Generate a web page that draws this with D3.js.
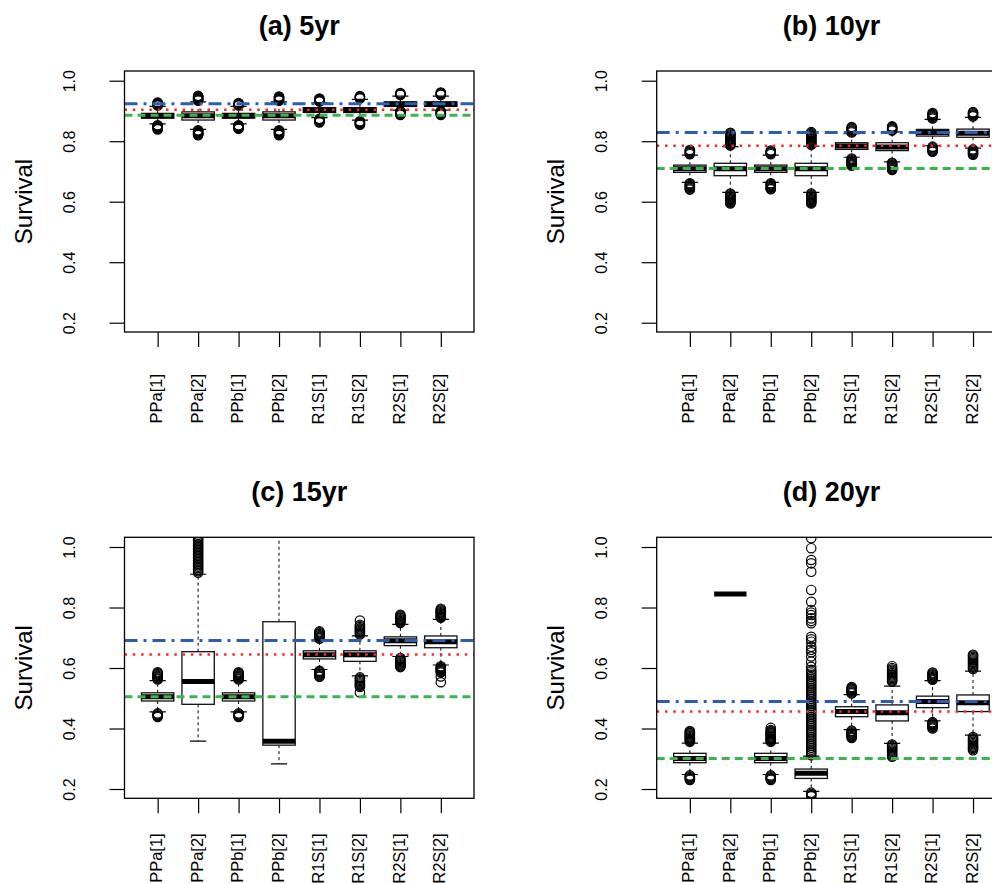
<!DOCTYPE html>
<html>
<head>
<meta charset="utf-8">
<script src="https://cdn.jsdelivr.net/npm/d3@7/dist/d3.min.js"></script>
<style>
  html, body { margin: 0; padding: 0; background: #fff; }
  svg { display: block; }
  text { font-family: "Liberation Sans", Arial, Helvetica, sans-serif; fill: #000; }
</style>
</head>
<body>
<svg id="chart" width="992" height="883"></svg>
<script>
// ---------------- data ----------------
const categories = ["PPa[1]", "PPa[2]", "PPb[1]", "PPb[2]", "R1S[1]", "R1S[2]", "R2S[1]", "R2S[2]"];
const panelTitles = ["(a) 5yr", "(b) 10yr", "(c) 15yr", "(d) 20yr"];
const yTickValues = [0.2, 0.4, 0.6, 0.8, 1.0];
const yLabel = "Survival";

// box stats: [lower whisker, Q1, median, Q3, upper whisker]
const stats5 = [
  [0.857, 0.876, 0.884, 0.892, 0.915],
  [0.839, 0.870, 0.884, 0.897, 0.930],
  [0.857, 0.876, 0.884, 0.892, 0.915],
  [0.839, 0.870, 0.884, 0.897, 0.930],
  [0.878, 0.895, 0.903, 0.911, 0.927],
  [0.870, 0.895, 0.903, 0.911, 0.938],
  [0.903, 0.915, 0.923, 0.930, 0.949],
  [0.903, 0.915, 0.923, 0.930, 0.949]
];
const outliers5 = [
  [0.918, 0.920, 0.922, 0.924, 0.926, 0.928, 0.853, 0.851, 0.849, 0.847, 0.845, 0.843, 0.841, 0.839],
  [0.934, 0.936, 0.938, 0.940, 0.942, 0.944, 0.946, 0.948, 0.950, 0.836, 0.834, 0.832, 0.830, 0.828, 0.826, 0.824, 0.822, 0.820],
  [0.918, 0.920, 0.922, 0.924, 0.926, 0.853, 0.851, 0.849, 0.847, 0.845, 0.843, 0.841],
  [0.934, 0.936, 0.938, 0.940, 0.942, 0.944, 0.946, 0.948, 0.836, 0.834, 0.832, 0.830, 0.828, 0.826, 0.824, 0.822, 0.820],
  [0.931, 0.933, 0.935, 0.937, 0.939, 0.941, 0.874, 0.872, 0.870, 0.868, 0.866, 0.864, 0.862],
  [0.941, 0.943, 0.945, 0.947, 0.949, 0.866, 0.864, 0.862, 0.860, 0.858, 0.856, 0.854],
  [0.953, 0.955, 0.957, 0.959, 0.899, 0.897, 0.895, 0.893, 0.891, 0.889, 0.887],
  [0.953, 0.955, 0.957, 0.959, 0.961, 0.899, 0.897, 0.895, 0.893, 0.891, 0.889, 0.887]
];

const stats10 = [
  [0.664, 0.697, 0.709, 0.721, 0.754],
  [0.631, 0.686, 0.709, 0.727, 0.782],
  [0.664, 0.697, 0.709, 0.721, 0.754],
  [0.631, 0.686, 0.709, 0.727, 0.784],
  [0.747, 0.773, 0.784, 0.795, 0.825],
  [0.732, 0.769, 0.781, 0.795, 0.831],
  [0.785, 0.817, 0.829, 0.839, 0.872],
  [0.777, 0.813, 0.826, 0.840, 0.879]
];
const outliers10 = [
  [0.757, 0.760, 0.763, 0.766, 0.769, 0.771, 0.661, 0.658, 0.655, 0.652, 0.649, 0.646, 0.643, 0.640],
  [0.786, 0.789, 0.792, 0.795, 0.798, 0.801, 0.804, 0.807, 0.810, 0.813, 0.816, 0.819, 0.822, 0.825, 0.828,
   0.627, 0.624, 0.621, 0.618, 0.615, 0.612, 0.609, 0.606, 0.603, 0.600, 0.597, 0.594],
  [0.757, 0.760, 0.763, 0.766, 0.769, 0.661, 0.658, 0.655, 0.652, 0.649, 0.646, 0.643, 0.641],
  [0.788, 0.791, 0.794, 0.797, 0.800, 0.803, 0.806, 0.809, 0.812, 0.815, 0.818, 0.821, 0.824, 0.827, 0.830,
   0.627, 0.624, 0.621, 0.618, 0.615, 0.612, 0.609, 0.606, 0.603, 0.600, 0.597, 0.594],
  [0.829, 0.832, 0.835, 0.838, 0.841, 0.844, 0.847, 0.743, 0.740, 0.737, 0.734, 0.731, 0.728, 0.725, 0.722, 0.719],
  [0.835, 0.838, 0.841, 0.844, 0.847, 0.849, 0.729, 0.726, 0.723, 0.720, 0.717, 0.714, 0.711, 0.708, 0.705],
  [0.875, 0.878, 0.881, 0.884, 0.887, 0.890, 0.893, 0.782, 0.779, 0.776, 0.773, 0.770, 0.767, 0.765],
  [0.882, 0.885, 0.888, 0.891, 0.894, 0.896, 0.773, 0.770, 0.767, 0.764, 0.761, 0.758, 0.755]
];

const stats15 = [
  [0.455, 0.491, 0.505, 0.518, 0.558],
  [0.358, 0.480, 0.555, 0.654, 0.910],
  [0.455, 0.491, 0.505, 0.518, 0.558],
  [0.283, 0.345, 0.358, 0.753, 1.100],
  [0.595, 0.630, 0.644, 0.657, 0.692],
  [0.574, 0.622, 0.644, 0.657, 0.706],
  [0.638, 0.674, 0.690, 0.703, 0.744],
  [0.610, 0.667, 0.687, 0.706, 0.761]
];
const outliers15 = [
  [0.562, 0.565, 0.568, 0.571, 0.574, 0.577, 0.580, 0.583, 0.586, 0.450, 0.447, 0.444, 0.441, 0.438],
  [0.915, 0.920, 0.925, 0.930, 0.935, 0.940, 0.945, 0.950, 0.955, 0.960, 0.965, 0.970, 0.975,
   0.980, 0.985, 0.990, 0.995, 1.000, 1.005, 1.010, 1.015, 1.020, 1.025, 1.030, 1.035],
  [0.562, 0.565, 0.568, 0.571, 0.574, 0.577, 0.580, 0.583, 0.586, 0.450, 0.447, 0.444, 0.441, 0.438],
  [],
  [0.697, 0.700, 0.703, 0.706, 0.709, 0.712, 0.715, 0.718, 0.721, 0.591, 0.588, 0.585, 0.582, 0.579, 0.576, 0.573, 0.571],
  [0.711, 0.715, 0.719, 0.723, 0.727, 0.731, 0.735, 0.739, 0.743, 0.757,
   0.569, 0.565, 0.561, 0.557, 0.553, 0.549, 0.545, 0.541, 0.537, 0.519],
  [0.749, 0.752, 0.755, 0.758, 0.761, 0.764, 0.767, 0.770, 0.773, 0.776,
   0.633, 0.630, 0.627, 0.624, 0.621, 0.618, 0.615, 0.612, 0.609, 0.606, 0.603],
  [0.766, 0.769, 0.772, 0.775, 0.778, 0.781, 0.784, 0.787, 0.790, 0.793, 0.796,
   0.606, 0.603, 0.600, 0.597, 0.594, 0.591, 0.588, 0.585, 0.572, 0.553]
];

const stats20 = [
  [0.248, 0.287, 0.301, 0.318, 0.352],
  [0.845, 0.845, 0.845, 0.845, 0.845],
  [0.248, 0.287, 0.301, 0.318, 0.352],
  [0.192, 0.235, 0.252, 0.266, 0.309],
  [0.396, 0.439, 0.456, 0.472, 0.512],
  [0.351, 0.425, 0.452, 0.478, 0.540],
  [0.425, 0.469, 0.489, 0.507, 0.558],
  [0.378, 0.456, 0.485, 0.511, 0.590]
];
const outliers20 = [
  [0.356, 0.359, 0.362, 0.365, 0.368, 0.371, 0.374, 0.377, 0.380, 0.383, 0.386, 0.389, 0.392,
   0.245, 0.242, 0.239, 0.236, 0.233, 0.230],
  [],
  [0.356, 0.359, 0.362, 0.365, 0.368, 0.371, 0.374, 0.377, 0.380, 0.383, 0.386, 0.389, 0.392, 0.395, 0.402,
   0.245, 0.242, 0.239, 0.236, 0.233, 0.230],
  [0.312, 0.318, 0.324, 0.330, 0.336, 0.342, 0.348, 0.354, 0.360, 0.366, 0.372, 0.378,
   0.384, 0.390, 0.396, 0.402, 0.408, 0.414, 0.420, 0.426, 0.432, 0.438, 0.444, 0.450,
   0.456, 0.462, 0.468, 0.474, 0.480, 0.486, 0.492, 0.498, 0.504, 0.510, 0.516, 0.522,
   0.528, 0.534, 0.540, 0.546, 0.552, 0.558, 0.564, 0.570, 0.576, 0.582, 0.588, 0.594,
   0.604, 0.621, 0.638, 0.652, 0.660, 0.670, 0.687, 0.695, 0.703, 0.748, 0.755, 0.764,
   0.775, 0.783, 0.792, 0.819, 0.858, 0.918, 0.946, 0.957, 0.996, 1.029,
   0.188, 0.184, 0.180, 0.176],
  [0.516, 0.519, 0.522, 0.525, 0.528, 0.531, 0.534, 0.537, 0.393, 0.390, 0.387, 0.384, 0.381, 0.378, 0.375, 0.372, 0.369],
  [0.555, 0.559, 0.563, 0.567, 0.571, 0.575, 0.579, 0.583, 0.587, 0.591, 0.595, 0.600, 0.606,
   0.347, 0.343, 0.339, 0.335, 0.331, 0.327, 0.323, 0.319, 0.315, 0.311, 0.307],
  [0.561, 0.564, 0.567, 0.570, 0.573, 0.576, 0.579, 0.582, 0.585, 0.421, 0.418, 0.415, 0.412, 0.409, 0.406, 0.403, 0.400],
  [0.597, 0.601, 0.605, 0.609, 0.613, 0.617, 0.621, 0.625, 0.629, 0.633, 0.637, 0.641, 0.644,
   0.372, 0.368, 0.364, 0.360, 0.356, 0.352, 0.348, 0.344, 0.340, 0.336, 0.332, 0.328]
];

// reference lines per panel
const refBlue  = [0.924, 0.829, 0.691, 0.489];
const refRed   = [0.904, 0.785, 0.645, 0.456];
const refGreen = [0.886, 0.710, 0.505, 0.301];

const allStats = [stats5, stats10, stats15, stats20];
const allOutliers = [outliers5, outliers10, outliers15, outliers20];

// ---------------- layout ----------------
const svg = d3.select("#chart");
svg.append("rect").attr("width", 992).attr("height", 883).attr("fill", "#fff");

const plotW = 349.5, plotH = 261;
const left0 = 124.5, top0 = 71, colStep = 532.2, rowStep = 466.3;
const labelOffset = [42, 35];

panelTitles.forEach((title, p) => {
  const col = p % 2, row = Math.floor(p / 2);
  const L = left0 + col * colStep, T = top0 + row * rowStep;
  const stats = allStats[p], outs = allOutliers[p];

  const x = d3.scaleLinear().domain([0.18, 8.82]).range([L, L + plotW]);
  const y = d3.scaleLinear().domain([0.1693, 1.0321]).range([T + plotH, T]);

  const g = svg.append("g");
  const clipId = "clip" + p;
  g.append("clipPath").attr("id", clipId)
    .append("rect").attr("x", L).attr("y", T).attr("width", plotW).attr("height", plotH);

  const inner = g.append("g").attr("clip-path", `url(#${clipId})`);

  // boxes
  stats.forEach((s, i) => {
    const cx = x(i + 1);
    const bx = x(i + 1 - 0.4), bw = x(i + 1 + 0.4) - x(i + 1 - 0.4);
    const sx0 = x(i + 1 - 0.2), sx1 = x(i + 1 + 0.2);
    const bg = inner.append("g");
    bg.append("line").attr("x1", cx).attr("x2", cx).attr("y1", y(s[3])).attr("y2", y(s[4]))
      .attr("stroke", "#000").attr("stroke-width", 1).attr("stroke-dasharray", "3,3");
    bg.append("line").attr("x1", cx).attr("x2", cx).attr("y1", y(s[1])).attr("y2", y(s[0]))
      .attr("stroke", "#000").attr("stroke-width", 1).attr("stroke-dasharray", "3,3");
    [s[0], s[4]].forEach(v => {
      bg.append("line").attr("x1", sx0).attr("x2", sx1).attr("y1", y(v)).attr("y2", y(v))
        .attr("stroke", "#000").attr("stroke-width", 1.2);
    });
    bg.append("rect").attr("x", bx).attr("y", y(s[3])).attr("width", bw)
      .attr("height", Math.max(0, y(s[1]) - y(s[3])))
      .attr("fill", "#fff").attr("stroke", "#111").attr("stroke-width", 1.3);
    bg.append("line").attr("x1", bx).attr("x2", bx + bw).attr("y1", y(s[2])).attr("y2", y(s[2]))
      .attr("stroke", "#000").attr("stroke-width", 5);
    bg.selectAll("circle").data(outs[i]).enter().append("circle")
      .attr("cx", cx).attr("cy", d => y(d)).attr("r", 4.7)
      .attr("fill", "none").attr("stroke", "#000").attr("stroke-width", 1.2);
  });

  // reference lines
  const refs = [
    { v: refGreen[p], color: "#3cb44a", w: 3, dash: "8,5" },
    { v: refRed[p], color: "#f52a2a", w: 2.5, dash: "2.5,5.8" },
    { v: refBlue[p], color: "#2b5eae", w: 3, dash: "13,6,3,6" }
  ];
  refs.forEach(r => {
    inner.append("line").attr("x1", L).attr("x2", L + plotW).attr("y1", y(r.v)).attr("y2", y(r.v))
      .attr("stroke", r.color).attr("stroke-width", r.w).attr("stroke-dasharray", r.dash);
  });

  // plot frame
  g.append("rect").attr("x", L).attr("y", T).attr("width", plotW).attr("height", plotH)
    .attr("fill", "none").attr("stroke", "#000").attr("stroke-width", 1.3);

  // y axis
  const yAxis = g.append("g").attr("transform", `translate(${L},0)`)
    .call(d3.axisLeft(y).tickValues(yTickValues).tickSize(15).tickSizeOuter(0).tickFormat(d3.format(".1f")));
  yAxis.select(".domain").remove();
  yAxis.selectAll(".tick line").attr("stroke", "#000").attr("stroke-width", 1.2);
  yAxis.selectAll(".tick text")
    .attr("x", null).attr("dy", null).attr("y", null)
    .attr("transform", "translate(-50,0) rotate(-90)")
    .attr("text-anchor", "middle")
    .style("font-size", "16px");

  // x axis
  const xAxis = g.append("g").attr("transform", `translate(0,${T + plotH})`)
    .call(d3.axisBottom(x).tickValues(d3.range(1, categories.length + 1)).tickSize(15).tickSizeOuter(0)
      .tickFormat(d => categories[d - 1]));
  xAxis.select(".domain").remove();
  xAxis.selectAll(".tick line").attr("stroke", "#000").attr("stroke-width", 1.2);
  xAxis.selectAll(".tick text")
    .attr("x", null).attr("dy", null).attr("y", null)
    .attr("transform", `translate(4,${labelOffset[row]}) rotate(-90)`)
    .attr("text-anchor", "end")
    .style("font-size", "16.5px");

  // y label
  g.append("text")
    .attr("transform", `translate(${L - 93},${T + plotH / 2}) rotate(-90)`)
    .attr("text-anchor", "middle")
    .style("font-size", "24px")
    .text(yLabel);

  // title
  g.append("text")
    .attr("x", L + plotW / 2).attr("y", T - 36.5)
    .attr("text-anchor", "middle")
    .style("font-size", "27px").style("font-weight", "bold")
    .text(title);
});
</script>
</body>
</html>
